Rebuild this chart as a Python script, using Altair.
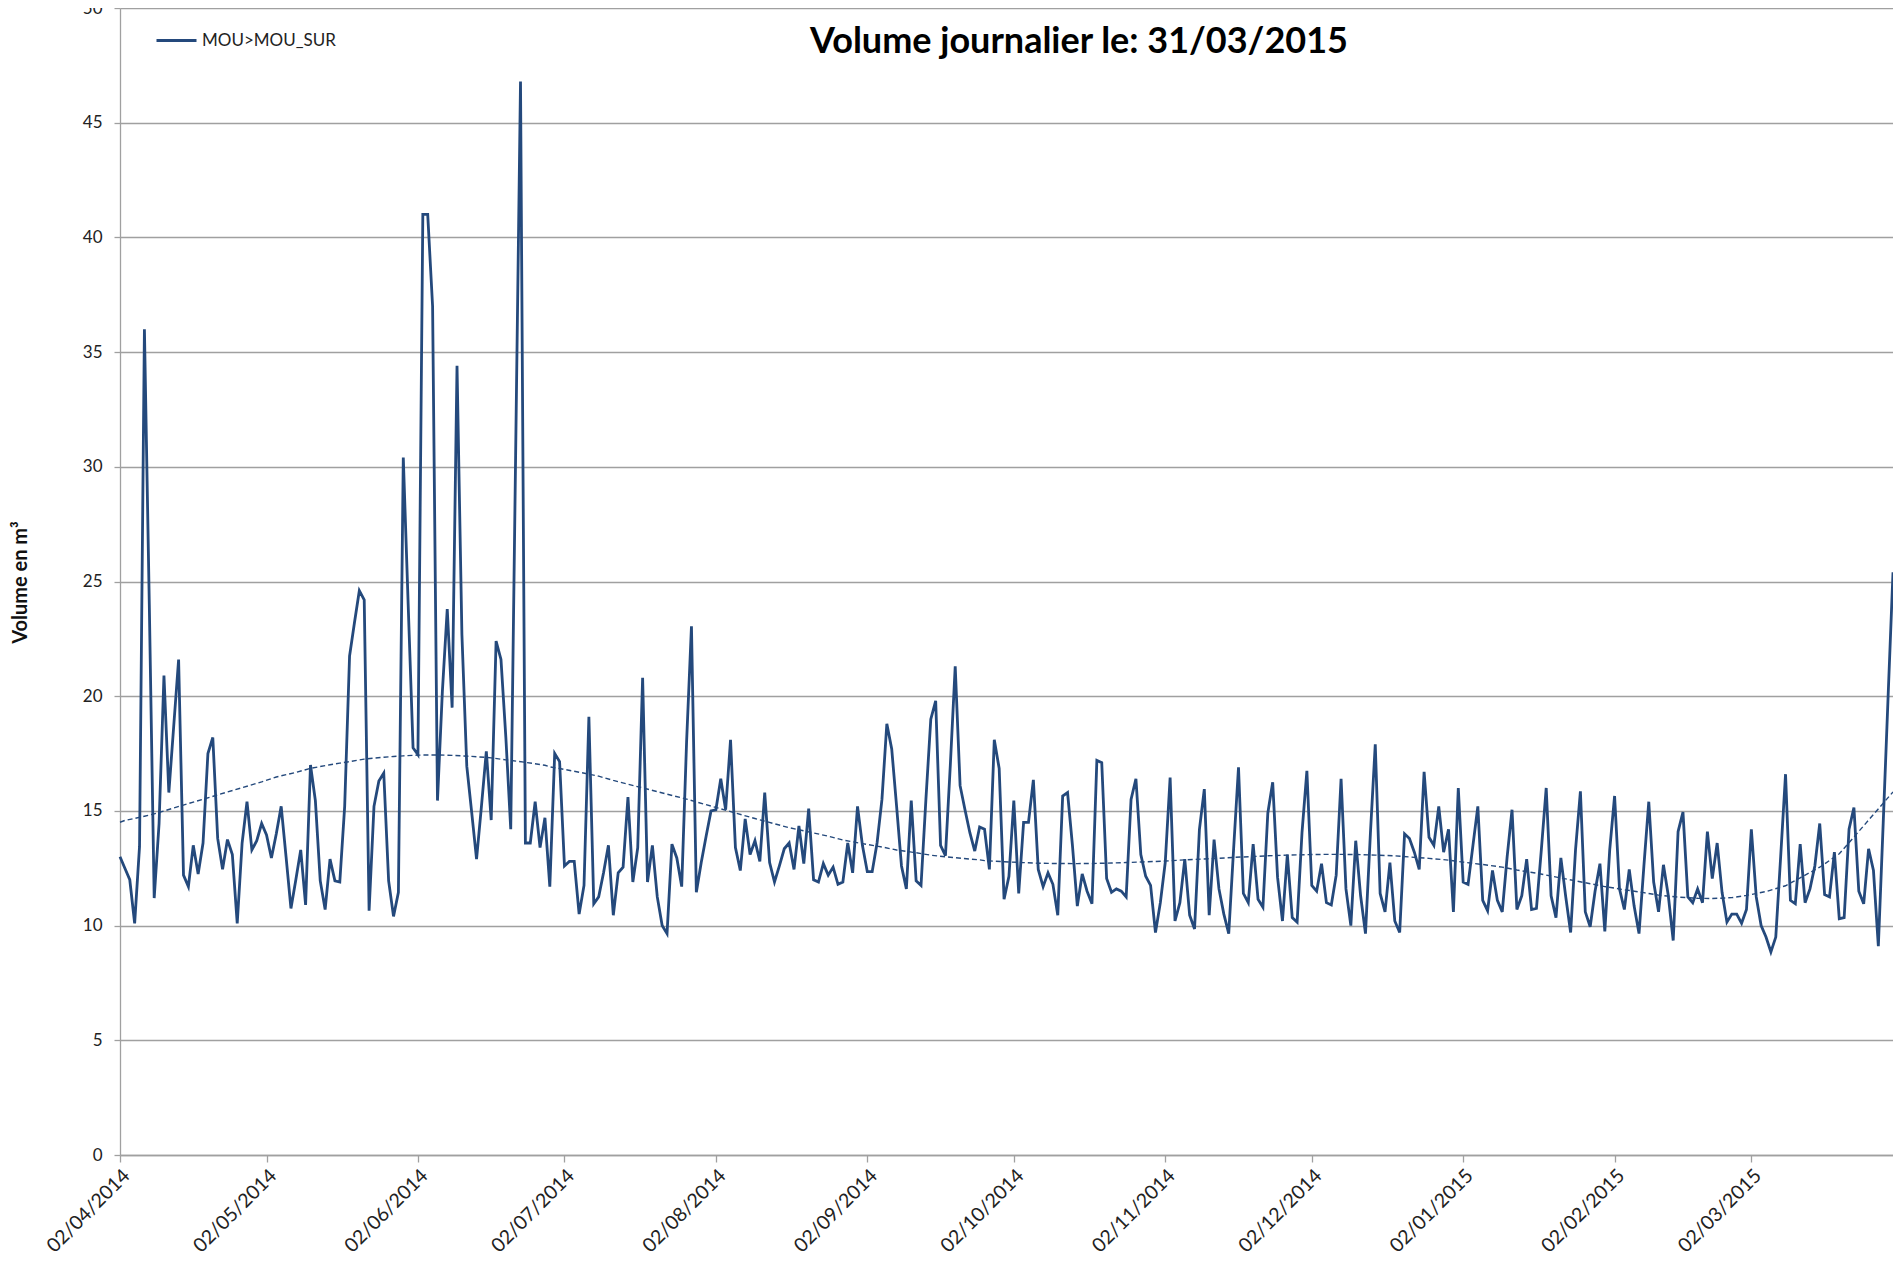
import altair as alt
import pandas as pd

series_name = "MOU>MOU_SUR"
chart_title = "Volume journalier le: 31/03/2015"
y_title = "Volume en m³"
start_year, start_month, start_day = 2014, 4, 2
end_year, end_month, end_day = 2015, 3, 31

volumes = [
    13.0, 12.5, 12.0, 10.1, 13.45, 36.0, 24.0, 11.2, 14.45, 20.9,
    15.8, 18.7, 21.6, 12.2, 11.7, 13.5, 12.25, 13.6, 17.5, 18.2,
    13.8, 12.45, 13.75, 13.1, 10.1, 13.6, 15.4, 13.3, 13.7, 14.45,
    13.95, 12.95, 14.0, 15.2, 13.0, 10.75, 12.0, 13.3, 10.9, 17.0,
    15.45, 11.95, 10.7, 12.9, 11.95, 11.9, 15.2, 21.75, 23.2, 24.6,
    24.2, 10.65, 15.2, 16.3, 16.65, 11.95, 10.4, 11.45, 30.4, 24.0,
    17.75, 17.45, 41.0, 41.0, 37.0, 15.45, 20.2, 23.8, 19.5, 34.4,
    22.7, 16.95, 14.95, 12.9, 15.2, 17.6, 14.6, 22.4, 21.6, 18.2,
    14.2, 30.5, 46.8, 13.6, 13.6, 15.4, 13.4, 14.7, 11.7, 17.5,
    17.15, 12.6, 12.8, 12.8, 10.5, 11.75, 19.1, 10.95, 11.25, 12.3,
    13.5, 10.45, 12.3, 12.55, 15.6, 11.9, 13.4, 20.8, 11.9, 13.5,
    11.25, 10.0, 9.65, 13.55, 12.95, 11.7, 18.0, 23.05, 11.45, 12.75,
    13.9, 15.0, 15.05, 16.4, 15.05, 18.1, 13.4, 12.4, 14.65, 13.1,
    13.7, 12.8, 15.8, 12.75, 11.9, 12.6, 13.35, 13.6, 12.45, 14.35,
    12.7, 15.1, 12.0, 11.9, 12.7, 12.2, 12.55, 11.8, 11.9, 13.6,
    12.3, 15.2, 13.5, 12.35, 12.35, 13.6, 15.5, 18.8, 17.7, 15.2,
    12.6, 11.6, 15.45, 11.95, 11.75, 15.5, 19.0, 19.8, 13.5, 13.05,
    17.0, 21.3, 16.1, 15.05, 14.05, 13.25, 14.3, 14.2, 12.45, 18.1,
    16.85, 11.15, 12.15, 15.45, 11.4, 14.5, 14.5, 16.35, 12.45, 11.7,
    12.3, 11.8, 10.45, 15.65, 15.8, 13.5, 10.85, 12.25, 11.5, 10.95,
    17.2, 17.1, 12.05, 11.45, 11.6, 11.5, 11.25, 15.5, 16.4, 13.1,
    12.15, 11.75, 9.7, 11.0, 12.75, 16.45, 10.2, 11.0, 12.9, 10.45,
    9.85, 14.2, 15.95, 10.45, 13.75, 11.6, 10.5, 9.65, 13.35, 16.9,
    11.4, 11.0, 13.55, 11.15, 10.8, 14.9, 16.25, 12.1, 10.2, 13.1,
    10.35, 10.15, 14.05, 16.75, 11.75, 11.5, 12.7, 11.0, 10.9, 12.2,
    16.4, 11.6, 10.0, 13.7, 11.3, 9.65, 14.0, 17.9, 11.4, 10.6,
    12.75, 10.2, 9.7, 14.0, 13.8, 13.2, 12.45, 16.7, 13.85, 13.5,
    15.2, 13.2, 14.2, 10.6, 16.0, 11.9, 11.8, 13.5, 15.2, 11.1,
    10.65, 12.4, 11.1, 10.6, 13.0, 15.05, 10.7, 11.3, 12.9, 10.7,
    10.75, 13.3, 16.0, 11.3, 10.35, 12.95, 11.25, 9.7, 13.3, 15.85,
    10.6, 9.95, 11.5, 12.7, 9.75, 13.3, 15.65, 11.6, 10.7, 12.45,
    10.85, 9.65, 12.6, 15.4, 11.9, 10.6, 12.65, 11.3, 9.35, 14.1,
    14.95, 11.25, 11.0, 11.6, 11.0, 14.1, 12.05, 13.6, 11.45, 10.15,
    10.5, 10.5, 10.1, 10.7, 14.2, 11.25, 10.0, 9.5, 8.85, 9.5,
    13.0, 16.6, 11.1, 10.95, 13.55, 11.0, 11.6, 12.6, 14.45, 11.35,
    11.25, 13.2, 10.3, 10.35, 14.2, 15.15, 11.5, 10.95, 13.35, 12.4,
    9.1, 14.5, 20.0, 25.4,
]

# tick months (day 2 of each month)
tick_months = [(2014, 4), (2014, 5), (2014, 6), (2014, 7), (2014, 8), (2014, 9),
               (2014, 10), (2014, 11), (2014, 12), (2015, 1), (2015, 2), (2015, 3)]
y_ticks = [0, 5, 10, 15, 20, 25, 30, 35, 40, 45, 50]

line_color = "#24497c"
grid_color = "#a0a0a0"
font = "Lato"

df = pd.DataFrame({
    "day": list(range(len(volumes))),
    "vol": volumes,
    "serie": [series_name] * len(volumes),
})
title_df = pd.DataFrame({"t": [chart_title]})

date_expr = f"datetime({start_year}, {start_month - 1}, {start_day} + datum.day)"

x_enc = alt.X(
    "date:T",
    scale=alt.Scale(
        domain=[alt.DateTime(year=start_year, month=start_month, date=start_day),
                alt.DateTime(year=end_year, month=end_month, date=end_day)],
        nice=False,
    ),
    axis=alt.Axis(
        values=[alt.DateTime(year=y, month=m, date=start_day) for (y, m) in tick_months],
        format="%d/%m/%Y",
        labelAngle=-45,
        labelFont=font,
        labelFontSize=19.5,
        labelColor="#222222",
        labelPadding=4,
        grid=False,
        tickSize=7,
        tickColor=grid_color,
        tickWidth=1.3,
        domainColor=grid_color,
        domainWidth=1.3,
        title=None,
    ),
)

y_enc = alt.Y(
    "vol:Q",
    scale=alt.Scale(domain=[0, 50], nice=False, zero=True),
    axis=alt.Axis(
        values=y_ticks,
        format="d",
        labelFont=font,
        labelFontSize=17,
        labelColor="#222222",
        labelPadding=12,
        grid=True,
        gridColor=grid_color,
        gridWidth=1.3,
        tickSize=6,
        tickColor=grid_color,
        tickWidth=1.3,
        domainColor=grid_color,
        domainWidth=1.3,
        title=y_title,
        titleFont=font,
        titleFontSize=20,
        titleFontWeight="bold",
        titleColor="#111111",
        titleAngle=-90,
        titleX=-100,
        titleY=574,
        titleAlign="center",
        titleBaseline="middle",
    ),
)

line = alt.Chart(df).transform_calculate(date=date_expr).mark_line(
    strokeWidth=2.8, strokeJoin="miter", strokeMiterLimit=4
).encode(
    x=x_enc,
    y=y_enc,
    color=alt.Color(
        "serie:N",
        scale=alt.Scale(domain=[series_name], range=[line_color]),
        legend=alt.Legend(
            title=None,
            orient="none",
            legendX=35,
            legendY=11,
            symbolType="stroke",
            symbolSize=1600,
            symbolStrokeWidth=3,
            labelFont=font,
            labelFontSize=17,
            labelColor="#222222",
            labelOffset=4,
            padding=0,
        ),
    ),
)

trend = alt.Chart(df).transform_regression(
    "day", "vol", method="poly", order=6
).transform_calculate(date=date_expr).mark_line(
    color=line_color, strokeWidth=1.4, strokeDash=[5, 3]
).encode(x="date:T", y="vol:Q")

title_mark = alt.Chart(title_df).mark_text(
    font=font, fontSize=36, fontWeight="bold", color="#000000",
    align="center", baseline="middle",
).encode(text="t:N", x=alt.value(959), y=alt.value(34))

chart = alt.layer(line, trend, title_mark).properties(
    width=1773,
    height=1147,
    autosize="none",
    padding={"left": 112, "top": 0, "right": 0, "bottom": 108},
).configure_view(stroke=None)

chart.save("out.html", embed_options={"renderer": "svg", "actions": False})
